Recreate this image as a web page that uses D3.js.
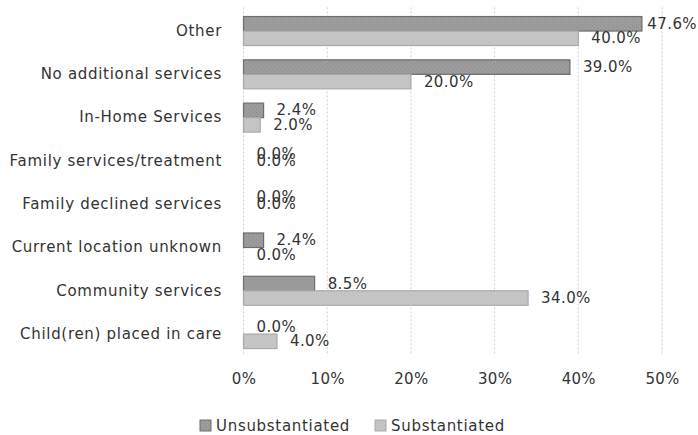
<!DOCTYPE html>
<html><head><meta charset="utf-8">
<script src="https://cdn.jsdelivr.net/npm/d3@7"></script>
<style>
body{margin:0;background:#fff;}
text{font-family:"DejaVu Sans",sans-serif;fill:#333;}
</style></head>
<body><svg id="c" width="698" height="435"></svg>
<script>
const categories = ["Other","No additional services","In-Home Services","Family services/treatment","Family declined services","Current location unknown","Community services","Child(ren) placed in care"];
const seriesNames = ["Unsubstantiated","Substantiated"];
const unsubstantiated = [47.6,39.0,2.4,0.0,0.0,2.4,8.5,0.0];
const substantiated = [40.0,20.0,2.0,0.0,0.0,0.0,34.0,4.0];
const ticks = [0,10,20,30,40,50];

const svg = d3.select("#c");
const W = 698;
const FS = 15, LS = "0.7px";
const x = d3.scaleLinear().domain([0,50]).range([243.5,662]);
const y = d3.scaleBand().domain(categories).range([9.4,355.7]).paddingInner(0.33).paddingOuter(0.165);
const y2 = d3.scaleBand().domain(seriesNames).range([0,y.bandwidth()]);

const defs = svg.append("defs");
function pat(id, base, dot){
  const p = defs.append("pattern").attr("id",id).attr("width",4).attr("height",4).attr("patternUnits","userSpaceOnUse");
  p.append("rect").attr("width",4).attr("height",4).attr("fill",base);
  p.append("rect").attr("x",0).attr("y",1).attr("width",1).attr("height",1).attr("fill",dot);
  p.append("rect").attr("x",2).attr("y",3).attr("width",1).attr("height",1).attr("fill",dot);
}
pat("pU","#9c9c9c","#8a8a8a");
pat("pS","#c6c6c6","#b8b8b8");
const fills = {"Unsubstantiated":"url(#pU)","Substantiated":"url(#pS)"};
const strokes = {"Unsubstantiated":"#6e6e6e","Substantiated":"#a9a9a9"};

// gridlines
svg.append("g").selectAll("line").data(ticks).join("line")
  .attr("x1",d=>x(d)).attr("x2",d=>x(d)).attr("y1",y.range()[0]-2).attr("y2",y.range()[1])
  .attr("stroke","#cfcfcf").attr("stroke-dasharray","2,2").attr("stroke-width",1);

// x axis labels
const xa = svg.append("g").attr("transform","translate(0,367)")
  .call(d3.axisBottom(x).tickValues(ticks).tickFormat(d=>d+"%").tickSize(0).tickPadding(6));
xa.select(".domain").remove();
xa.selectAll("text").attr("font-size",FS).style("font-family","DejaVu Sans").style("letter-spacing","0.3px").attr("fill","#333");

// y axis labels
const ya = svg.append("g").attr("transform","translate(222,0)")
  .call(d3.axisLeft(y).tickSize(0).tickPadding(0));
ya.select(".domain").remove();
ya.selectAll("text").attr("font-size",FS).style("font-family","DejaVu Sans").style("letter-spacing",LS).attr("fill","#333");

const rows = categories.map((c,i)=>({cat:c, vals:[{s:"Unsubstantiated",v:unsubstantiated[i]},{s:"Substantiated",v:substantiated[i]}]}));

const g = svg.append("g").selectAll("g").data(rows).join("g")
  .attr("transform",d=>`translate(0,${y(d.cat)})`);
g.selectAll("rect").data(d=>d.vals).join("rect")
  .attr("x",x(0)).attr("y",d=>y2(d.s)).attr("width",d=>x(d.v)-x(0)).attr("height",y2.bandwidth())
  .attr("fill",d=>fills[d.s]).attr("stroke",d=>d.v>0?strokes[d.s]:"none").attr("stroke-width",1.2);

g.each(function(row){
  const both0 = row.vals.every(d=>d.v===0);
  d3.select(this).selectAll("text.lbl").data(row.vals).join("text").attr("class","lbl")
    .attr("font-size",FS).style("letter-spacing","0.4px").attr("dominant-baseline","central")
    .attr("y",(d,i)=> both0 && i===1 ? y2("Unsubstantiated")+y2.bandwidth()/2+7 : y2(d.s)+y2.bandwidth()/2)
    .text(d=>d.v.toFixed(1)+"%")
    .attr("x",function(d){ const w=this.getComputedTextLength(); return Math.min(x(d.v)+13, W-1-w); });
});

// legend
const leg = svg.append("g").attr("transform","translate(200,420)");
const items = [{s:"Unsubstantiated",x:0},{s:"Substantiated",x:175}];
items.forEach(it=>{
  leg.append("rect").attr("x",it.x).attr("y",0).attr("width",11).attr("height",11)
    .attr("fill",fills[it.s]).attr("stroke",strokes[it.s]);
  leg.append("text").attr("x",it.x+16).attr("y",5.5).attr("dominant-baseline","central").attr("font-size",FS).style("letter-spacing",LS).text(it.s);
});
</script></body></html>
